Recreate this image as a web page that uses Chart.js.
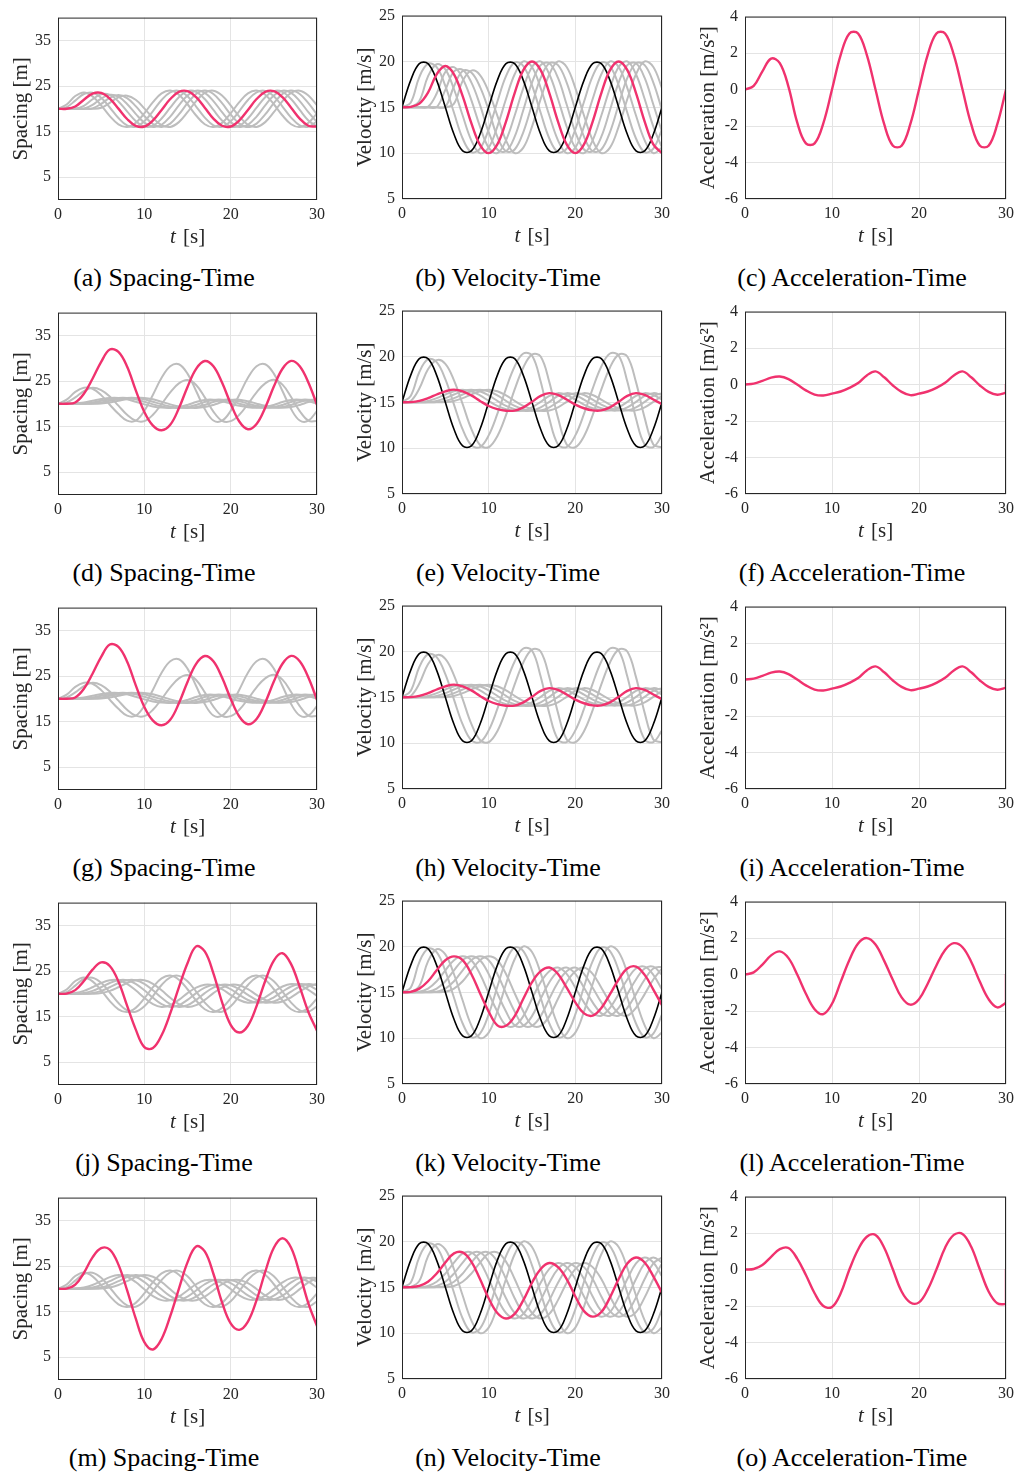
<!DOCTYPE html>
<html><head><meta charset="utf-8">
<script src="https://cdn.jsdelivr.net/npm/chart.js@4.4.1/dist/chart.umd.min.js"></script>
<style>
body{margin:0;background:#fff;width:1020px;height:1473px;position:relative;overflow:hidden}
canvas{position:absolute}
.cap{position:absolute;width:340px;text-align:center;font-family:'Liberation Serif','Times New Roman',serif;font-size:26px;line-height:30px;color:#000;white-space:nowrap}
</style></head><body>
<script>
// ---------------- data ----------------
const T = [0,1,2,3,4,5,6,7,8,9,10,11,12,13,14,15,16,17,18,19,20,21,22,23,24,25,26,27,28,29,30];
const T_TICKS = [0,10,20,30];
const SP_TICKS = [5,15,25,35];
const V_TICKS = [5,10,15,20,25];
const A_TICKS = [-6,-4,-2,0,2,4];

// leader velocity (black), same in every velocity panel
const LEADER_V = [15,17.94,19.76,19.76,17.94,15,12.06,10.24,10.24,12.06,15,17.94,19.76,19.76,17.94,15,12.06,10.24,10.24,12.06,15,17.94,19.76,19.76,17.94,15,12.06,10.24,10.24,12.06,15];

// two vehicles ahead of the highlighted one (rows a, j, m)
const FRONT_VEL_1 = [15,15.5,18.3,19.75,19.37,17.33,14.4,11.6,10.1,10.5,12.6,15.6,18.4,19.9,19.5,17.4,14.4,11.6,10.1,10.5,12.6,15.6,18.4,19.9,19.5,17.4,14.4,11.6,10.1,10.5,12.6];
const FRONT_VEL_2 = [15,15.05,15.7,18.38,19.7,19.14,16.97,14.1,11.4,10.0,10.6,12.9,15.9,18.6,20.0,19.4,17.1,14.1,11.4,10.0,10.6,12.9,15.9,18.6,20.0,19.4,17.1,14.1,11.4,10.0,10.6];
const FRONT_SP_1 = [20,20.95,22.8,23.59,22.73,20.75,18.4,16.59,16.0,16.92,19.0,21.47,23.38,23.99,23.08,21.0,18.53,16.62,16.0,16.92,19.0,21.47,23.38,23.99,23.08,21.0,18.53,16.62,16.0,16.92,19.0];
const FRONT_SP_2 = [20,20.36,21.8,23.24,23.53,22.4,20.28,17.97,16.36,16.07,17.26,19.5,21.93,23.62,23.93,22.74,20.5,18.07,16.38,16.07,17.26,19.5,21.93,23.62,23.93,22.74,20.5,18.07,16.38,16.07,17.26];

// Row 1 (a, b, c)
const R1_SP_PINK = [20,20,20.51,22.0,23.34,23.48,22.22,20.04,17.76,16.27,16.12,17.45,19.75,22.14,23.72,23.88,22.55,20.25,17.86,16.28,16.12,17.45,19.75,22.14,23.72,23.88,22.55,20.25,17.86,16.28,16.12];
const R1_SP_REAR = [
 [20,20,20,20.66,22.1,23.19,23.04,21.61,19.42,17.33,16.11,16.28,17.86,20.25,22.55,23.88,23.72,22.14,19.75,17.45,16.12,16.28,17.86,20.25,22.55,23.88,23.72,22.14,19.75,17.45,16.12],
 [20,20,20,20.03,20.86,22.24,23.07,22.66,21.06,18.89,16.96,16.03,16.5,18.3,20.75,22.92,23.97,23.5,21.7,19.25,17.08,16.03,16.5,18.3,20.75,22.92,23.97,23.5,21.7,19.25,17.08],
 [20,20,20,20,20.1,21.09,22.4,23.0,22.33,20.58,18.42,16.67,16.0,16.76,18.76,21.24,23.24,24,23.24,21.24,18.76,16.76,16,16.76,18.76,21.24,23.24,24,23.24,21.24,18.76],
 [20,20,20,20,20,20.22,21.32,22.52,22.87,21.97,20.1,17.98,16.43,16.03,17.08,19.25,21.7,23.5,23.97,22.92,20.75,18.3,16.5,16.03,17.08,19.25,21.7,23.5,23.97,22.92,20.75]
];
const R1_VEL_PINK = [15,15.05,15.4,16.6,18.6,19.5,18.59,16.22,13.28,10.91,10.0,10.95,13.45,16.55,19.05,20,19.05,16.55,13.45,10.95,10,10.95,13.45,16.55,19.05,20,19.05,16.55,13.45,10.95,10];
const R1_VEL_REAR = [
 [15,15,15,15.05,16.5,18.85,19.38,18.15,15.79,12.9,10.6,10.0,11.4,14.1,17.1,19.4,20.0,18.6,15.9,12.9,10.6,10.0,11.4,14.1,17.1,19.4,20.0,18.6,15.9,12.9,10.6],
 [15,15,15,15,15.02,16.9,18.91,19.08,17.72,15.26,12.3,10.4,10.2,11.8,14.7,17.7,19.6,19.8,18.2,15.3,12.3,10.4,10.2,11.8,14.7,17.7,19.6,19.8,18.2,15.3,12.3],
 [15,15,15,15,15,15.05,17.3,18.96,18.8,17.23,14.7,11.8,10.2,10.4,12.3,15.3,18.2,19.8,19.6,17.7,14.7,11.8,10.2,10.4,12.3,15.3,18.2,19.8,19.6,17.7,14.7],
 [15,15,15,15,15,15,15.4,17.88,19.0,18.52,16.68,14.1,11.4,10.0,10.6,12.9,15.9,18.6,20.0,19.4,17.1,14.1,11.4,10.0,10.6,12.9,15.9,18.6,20.0,19.4,17.1]
];
const R1_ACC_PINK = [0,0.2,1.0,1.7,1.45,0.15,-1.8,-2.95,-2.95,-1.85,0,1.9,3.08,3.08,1.9,0,-1.9,-3.08,-3.08,-1.9,0,1.9,3.08,3.08,1.9,0,-1.9,-3.08,-3.08,-1.9,0];

// Rows 2 and 3 (d-i, identical panels)
const R2_SP_FRONT = [
 [20,20.9,22.6,23.5,23.3,21.9,19.8,17.8,16.3,16.29,18.45,22.0,25.7,28.24,28.68,26.62,22.82,18.84,16.34,16.29,18.45,22.0,25.7,28.24,28.68,26.62,22.82,18.84,16.34,16.29,18.45],
 [20,20.3,21.4,22.8,23.5,23.0,21.6,19.6,17.6,16.3,16.19,17.59,19.94,22.51,24.47,25.2,24.12,21.4,18.3,16.28,16.19,17.59,19.94,22.51,24.47,25.25,24.2,21.5,18.4,16.3,16.2]
];
const R2_SP_PINK = [20,20.02,20.3,22.2,25.5,29.2,31.9,31.4,28.2,23.0,18.2,15.2,14.2,15.39,19.0,23.7,27.66,29.38,28.23,24.66,20.03,16.12,14.42,15.57,19.14,23.77,27.68,29.4,28.23,24.66,19.8];
const R2_SP_REAR = [
 [20,20.01,20.09,20.3,20.65,21.03,21.29,21.29,20.98,20.45,19.88,19.43,19.17,19.09,19.28,19.75,20.38,20.85,20.9,20.55,20.03,19.55,19.24,19.12,19.29,19.75,20.38,20.85,20.9,20.55,20.05],
 [20,20,20.01,20.09,20.3,20.65,21.03,21.29,21.29,20.98,20.45,19.88,19.43,19.17,19.09,19.28,19.75,20.38,20.85,20.9,20.55,20.03,19.55,19.24,19.12,19.29,19.75,20.38,20.85,20.9,20.55],
 [20,20,20,20.01,20.09,20.3,20.65,21.03,21.29,21.29,20.98,20.45,19.88,19.43,19.17,19.09,19.28,19.75,20.38,20.85,20.9,20.55,20.03,19.55,19.24,19.12,19.29,19.75,20.38,20.85,20.9],
 [20,20,20,20,20.01,20.09,20.3,20.65,21.03,21.29,21.29,20.98,20.45,19.88,19.43,19.17,19.09,19.28,19.75,20.38,20.85,20.9,20.55,20.03,19.55,19.24,19.12,19.29,19.75,20.38,20.85]
];
const R2_VEL_FRONT = [
 [15,15.7,18.3,19.7,19.38,17.52,14.75,12.04,10.31,10.12,11.39,13.73,16.49,18.91,20.32,20.1,17.26,13.24,10.4,10.12,11.39,13.73,16.49,18.91,20.32,20.1,17.26,13.24,10.4,10.12,11.39],
 [15,15.15,16.5,18.6,19.6,19.2,17.4,14.8,12.1,10.35,10.1,11.3,13.6,16.4,18.8,20.2,20.0,17.2,13.3,10.4,10.1,11.3,13.6,16.4,18.8,20.2,20.0,17.2,13.3,10.4,10.1]
];
const R2_VEL_PINK = [15.0,15.02,15.15,15.45,15.85,16.2,16.38,16.2,15.75,15.15,14.6,14.25,14.08,14.1,14.45,15.05,15.7,16.0,15.8,15.3,14.75,14.35,14.12,14.12,14.45,15.05,15.7,16.0,15.8,15.3,14.8];
const R2_VEL_REAR = [
 [15,15.0,15.02,15.15,15.45,15.85,16.2,16.38,16.2,15.75,15.15,14.6,14.25,14.08,14.1,14.45,15.05,15.7,16.0,15.8,15.3,14.75,14.35,14.12,14.12,14.45,15.05,15.7,16.0,15.8,15.3],
 [15,15,15.0,15.02,15.15,15.45,15.85,16.2,16.38,16.2,15.75,15.15,14.6,14.25,14.08,14.1,14.45,15.05,15.7,16.0,15.8,15.3,14.75,14.35,14.12,14.12,14.45,15.05,15.7,16.0,15.8],
 [15,15,15,15.0,15.02,15.15,15.45,15.85,16.2,16.38,16.2,15.75,15.15,14.6,14.25,14.08,14.1,14.45,15.05,15.7,16.0,15.8,15.3,14.75,14.35,14.12,14.12,14.45,15.05,15.7,16.0],
 [15,15,15,15,15.0,15.02,15.15,15.45,15.85,16.2,16.38,16.2,15.75,15.15,14.6,14.25,14.08,14.1,14.45,15.05,15.7,16.0,15.8,15.3,14.75,14.35,14.12,14.12,14.45,15.05,15.7]
];
const R2_ACC_PINK = [0,0.05,0.2,0.38,0.44,0.3,0.0,-0.32,-0.55,-0.6,-0.5,-0.38,-0.18,0.08,0.5,0.72,0.4,-0.05,-0.4,-0.58,-0.5,-0.38,-0.18,0.1,0.5,0.72,0.4,-0.05,-0.4,-0.56,-0.45];
const R2_ACC_END = [-0.45, 0];

// Row 4 (j, k, l)
const R4_SP_PINK = [20,20.05,20.8,22.8,25.3,26.9,26.1,22.7,17.4,12.2,8.3,8.1,10.9,15.7,21.4,26.7,30.4,29.3,24.5,18.2,13.2,11.5,13.0,17.3,22.8,27.3,28.9,26.5,21.5,16.0,11.9];
const R4_SP_REAR = [
 [20,20.02,20.18,20.64,21.44,22.36,22.97,22.97,22.2,20.76,19.12,17.72,17.1,17.5,18.68,20.16,21.36,22.0,21.88,21.0,19.76,18.64,18.06,18.3,19.24,20.48,21.6,22.16,21.88,20.88,19.56],
 [20,20,20.02,20.18,20.64,21.44,22.36,22.97,22.97,22.2,20.76,19.12,17.72,17.1,17.5,18.68,20.16,21.36,22.0,21.88,21.0,19.76,18.64,18.06,18.3,19.24,20.48,21.6,22.16,21.88,20.88],
 [20,20,20,20.02,20.18,20.64,21.44,22.36,22.97,22.97,22.2,20.76,19.12,17.72,17.1,17.5,18.68,20.16,21.36,22.0,21.88,21.0,19.76,18.64,18.06,18.3,19.24,20.48,21.6,22.16,21.88],
 [20,20,20,20,20.02,20.18,20.64,21.44,22.36,22.97,22.97,22.2,20.76,19.12,17.72,17.1,17.5,18.68,20.16,21.36,22.0,21.88,21.0,19.76,18.64,18.06,18.3,19.24,20.48,21.6,22.16]
];
const R4_VEL_PINK = [15.0,15.05,15.4,16.2,17.4,18.5,18.92,18.5,17.0,14.9,12.9,11.4,11.35,12.4,14.3,16.1,17.3,17.7,17.0,15.5,13.9,12.7,12.45,13.3,14.8,16.4,17.6,17.8,16.9,15.3,13.6];
const R4_VEL_REAR = [
 [15,15.0,15.05,15.4,16.2,17.4,18.5,18.92,18.5,17.0,14.9,12.9,11.4,11.35,12.4,14.3,16.1,17.3,17.7,17.0,15.5,13.9,12.7,12.45,13.3,14.8,16.4,17.6,17.8,16.9,15.3],
 [15,15,15.0,15.05,15.4,16.2,17.4,18.5,18.92,18.5,17.0,14.9,12.9,11.4,11.35,12.4,14.3,16.1,17.3,17.7,17.0,15.5,13.9,12.7,12.45,13.3,14.8,16.4,17.6,17.8,16.9],
 [15,15,15,15.0,15.05,15.4,16.2,17.4,18.5,18.92,18.5,17.0,14.9,12.9,11.4,11.35,12.4,14.3,16.1,17.3,17.7,17.0,15.5,13.9,12.7,12.45,13.3,14.8,16.4,17.6,17.8],
 [15,15,15,15,15.0,15.05,15.4,16.2,17.4,18.5,18.92,18.5,17.0,14.9,12.9,11.4,11.35,12.4,14.3,16.1,17.3,17.7,17.0,15.5,13.9,12.7,12.45,13.3,14.8,16.4,17.6]
];
const R4_ACC_PINK = [0,0.12,0.55,1.05,1.27,0.9,0.0,-1.05,-1.9,-2.17,-1.6,-0.4,0.8,1.7,2.0,1.65,0.75,-0.3,-1.25,-1.65,-1.35,-0.5,0.5,1.35,1.72,1.5,0.7,-0.4,-1.35,-1.8,-1.55];
const R4_ACC_END = [-1.55, 0];

// Row 5 (m, n, o)
const R5_SP_PINK = [20,20.05,20.9,23.5,26.9,28.9,28.6,25.3,19.7,13.5,8.3,6.7,9.0,14.0,20.0,25.8,29.3,28.2,23.3,17.0,12.4,11.0,12.8,17.5,23.7,29.0,31.1,29.0,23.3,16.8,11.8];
const R5_SP_REAR = [
 [20,20.01,20.07,20.3,20.84,21.68,22.56,23.0,22.64,21.48,19.88,18.4,17.52,17.48,18.28,19.64,21.0,21.86,21.94,21.24,19.96,18.56,17.68,17.64,18.48,19.92,21.4,22.34,22.38,21.56,20.24],
 [20,20,20.01,20.07,20.3,20.84,21.68,22.56,23.0,22.64,21.48,19.88,18.4,17.52,17.48,18.28,19.64,21.0,21.86,21.94,21.24,19.96,18.56,17.68,17.64,18.48,19.92,21.4,22.34,22.38,21.56],
 [20,20,20,20.01,20.07,20.3,20.84,21.68,22.56,23.0,22.64,21.48,19.88,18.4,17.52,17.48,18.28,19.64,21.0,21.86,21.94,21.24,19.96,18.56,17.68,17.64,18.48,19.92,21.4,22.34,22.38],
 [20,20,20,20,20.01,20.07,20.3,20.84,21.68,22.56,23.0,22.64,21.48,19.88,18.4,17.52,17.48,18.28,19.64,21.0,21.86,21.94,21.24,19.96,18.56,17.68,17.64,18.48,19.92,21.4,22.34]
];
const R5_VEL_PINK = [15.0,15.02,15.15,15.6,16.5,17.7,18.7,18.8,17.8,15.9,13.8,12.2,11.6,12.1,13.6,15.5,17.0,17.65,17.2,15.9,14.0,12.4,11.8,12.3,13.9,15.9,17.6,18.25,17.7,16.2,14.4];
const R5_VEL_REAR = [
 [15,15.0,15.02,15.15,15.6,16.5,17.7,18.7,18.8,17.8,15.9,13.8,12.2,11.6,12.1,13.6,15.5,17.0,17.65,17.2,15.9,14.0,12.4,11.8,12.3,13.9,15.9,17.6,18.25,17.7,16.2],
 [15,15,15.0,15.02,15.15,15.6,16.5,17.7,18.7,18.8,17.8,15.9,13.8,12.2,11.6,12.1,13.6,15.5,17.0,17.65,17.2,15.9,14.0,12.4,11.8,12.3,13.9,15.9,17.6,18.25,17.7],
 [15,15,15,15.0,15.02,15.15,15.6,16.5,17.7,18.7,18.8,17.8,15.9,13.8,12.2,11.6,12.1,13.6,15.5,17.0,17.65,17.2,15.9,14.0,12.4,11.8,12.3,13.9,15.9,17.6,18.25],
 [15,15,15,15,15.0,15.02,15.15,15.6,16.5,17.7,18.7,18.8,17.8,15.9,13.8,12.2,11.6,12.1,13.6,15.5,17.0,17.65,17.2,15.9,14.0,12.4,11.8,12.3,13.9,15.9,17.6]
];
const R5_ACC_PINK = [0,0.03,0.25,0.7,1.12,1.18,0.6,-0.3,-1.3,-2.0,-2.05,-1.3,0.0,1.1,1.8,1.9,1.2,0.0,-1.2,-1.8,-1.8,-1.1,0.0,1.2,1.9,1.95,1.25,0.0,-1.2,-1.85,-1.9];
const R5_ACC_END = [-1.9, 0];

const CAPTIONS = ['(a) Spacing-Time','(b) Velocity-Time','(c) Acceleration-Time',
 '(d) Spacing-Time','(e) Velocity-Time','(f) Acceleration-Time',
 '(g) Spacing-Time','(h) Velocity-Time','(i) Acceleration-Time',
 '(j) Spacing-Time','(k) Velocity-Time','(l) Acceleration-Time',
 '(m) Spacing-Time','(n) Velocity-Time','(o) Acceleration-Time'];
const Y_TITLES = ['Spacing [m]','Velocity [m/s]','Acceleration [m/s\u00B2]'];
const X_TITLE_VAR = 't', X_TITLE_UNIT = ' [s]';

// ---------------- layout / style ----------------
const COLS = [
  {plotLeft:58, plotW:260, plotTop:13, plotH:187},
  {plotLeft:402, plotW:261, plotTop:11, plotH:188},
  {plotLeft:745, plotW:262, plotTop:12, plotH:187}
];
const ROW_STEP = 295;
const FONT = "'Liberation Serif','Times New Roman',serif";
const PINK = '#f0326e', GRAY = '#bdbdbd', BLACK = '#000000', GRID = '#e4e4e4', INK = '#262626';

const ROWS = [
  {sp:{gray:[FRONT_SP_1,FRONT_SP_2,...R1_SP_REAR], pink:R1_SP_PINK},
   v:{gray:[FRONT_VEL_1,FRONT_VEL_2,...R1_VEL_REAR], pink:R1_VEL_PINK},
   a:{pink:R1_ACC_PINK, end:null}},
  {sp:{gray:[...R2_SP_FRONT,...R2_SP_REAR], pink:R2_SP_PINK},
   v:{gray:[...R2_VEL_FRONT,...R2_VEL_REAR], pink:R2_VEL_PINK},
   a:{pink:R2_ACC_PINK, end:R2_ACC_END}},
  {sp:{gray:[...R2_SP_FRONT,...R2_SP_REAR], pink:R2_SP_PINK},
   v:{gray:[...R2_VEL_FRONT,...R2_VEL_REAR], pink:R2_VEL_PINK},
   a:{pink:R2_ACC_PINK, end:R2_ACC_END}},
  {sp:{gray:[FRONT_SP_1,FRONT_SP_2,...R4_SP_REAR], pink:R4_SP_PINK},
   v:{gray:[FRONT_VEL_1,FRONT_VEL_2,...R4_VEL_REAR], pink:R4_VEL_PINK},
   a:{pink:R4_ACC_PINK, end:R4_ACC_END}},
  {sp:{gray:[FRONT_SP_1,FRONT_SP_2,...R5_SP_REAR], pink:R5_SP_PINK},
   v:{gray:[FRONT_VEL_1,FRONT_VEL_2,...R5_VEL_REAR], pink:R5_VEL_PINK},
   a:{pink:R5_ACC_PINK, end:R5_ACC_END}}
];

function pts(arr){ return T.map((t,i)=>({x:t, y:arr[i]})); }

const framePlugin = {
  id:'frame',
  afterDatasetsDraw(chart){
    const {ctx, chartArea:a} = chart;
    ctx.save(); ctx.strokeStyle = INK; ctx.lineWidth = 1;
    ctx.strokeRect(a.left+0.5, a.top+0.5, a.right-a.left-1, a.bottom-a.top-1);
    ctx.restore();
  }
};
const xTitlePlugin = {
  id:'xtitle',
  afterDraw(chart){
    const {ctx, chartArea:a} = chart;
    const cy = a.bottom + 37, cx = (a.left + a.right)/2;
    ctx.save(); ctx.fillStyle = INK; ctx.textBaseline = 'middle'; ctx.textAlign = 'left';
    ctx.font = 'italic 21px ' + FONT; const w1 = ctx.measureText(X_TITLE_VAR).width;
    ctx.font = '21px ' + FONT; const w2 = ctx.measureText(X_TITLE_UNIT).width + 2;
    const x0 = cx - (w1 + w2)/2;
    ctx.font = 'italic 21px ' + FONT; ctx.fillText(X_TITLE_VAR, x0, cy);
    ctx.font = '21px ' + FONT; ctx.fillText(X_TITLE_UNIT, x0 + w1 + 2, cy);
    ctx.restore();
  }
};

function makeChart(r, c, cfg, yMin, yMax, yTicks){
  const g = COLS[c];
  const W = 58 + g.plotW + 12, H = 12 + g.plotH + 50;
  const cv = document.createElement('canvas');
  cv.width = W; cv.height = H;
  cv.style.left = (g.plotLeft - 58) + 'px';
  cv.style.top = (r*ROW_STEP + g.plotTop - 12) + 'px';
  cv.style.width = W + 'px'; cv.style.height = H + 'px';
  document.body.appendChild(cv);
  const ds = [];
  if (cfg.pink) ds.push({data:pts(cfg.pink), borderColor:PINK, borderWidth:2.4, order:0});
  if (cfg.end) ds.push({data:[{x:30,y:cfg.end[0]},{x:30,y:cfg.end[1]}], borderColor:PINK, borderWidth:2.4, tension:0, order:0});
  if (cfg.black) ds.push({data:pts(cfg.black), borderColor:BLACK, borderWidth:1.6, order:1});
  (cfg.gray||[]).forEach(arr => ds.push({data:pts(arr), borderColor:GRAY, borderWidth:2, order:2}));
  new Chart(cv, {
    type:'line',
    data:{datasets:ds},
    options:{
      responsive:false, animation:false, devicePixelRatio:1, events:[],
      layout:{padding:{left:0, top:12, right:12, bottom:0}},
      plugins:{legend:{display:false}, tooltip:{enabled:false}},
      elements:{point:{radius:0}, line:{tension:0.38, borderCapStyle:'round', borderJoinStyle:'round', fill:false}},
      scales:{
        x:{type:'linear', min:0, max:30,
           afterBuildTicks:s=>{ s.ticks = T_TICKS.map(v=>({value:v})); },
           afterFit:s=>{ s.height = 50; },
           grid:{color:GRID, drawTicks:false}, border:{display:false},
           ticks:{padding:5, autoSkip:false, maxRotation:0, color:INK, font:{family:FONT, size:16}}},
        y:{type:'linear', min:yMin, max:yMax,
           afterBuildTicks:s=>{ s.ticks = yTicks.map(v=>({value:v})); },
           afterFit:s=>{ s.width = 58; },
           grid:{color:GRID, drawTicks:false}, border:{display:false},
           ticks:{padding:7, autoSkip:false, color:INK, font:{family:FONT, size:16}},
           title:{display:true, text:Y_TITLES[c], color:INK, font:{family:FONT, size:21}, padding:{top:8.4, bottom:0}}}
      }
    },
    plugins:[framePlugin, xTitlePlugin]
  });
}

ROWS.forEach((row, r) => {
  makeChart(r, 0, {gray:row.sp.gray, pink:row.sp.pink}, 0, 40, SP_TICKS);
  makeChart(r, 1, {gray:row.v.gray, pink:row.v.pink, black:LEADER_V}, 5, 25, V_TICKS);
  makeChart(r, 2, {pink:row.a.pink, end:row.a.end}, -6, 4, A_TICKS);
  for (let c = 0; c < 3; c++) {
    const d = document.createElement('div');
    d.className = 'cap';
    d.textContent = CAPTIONS[r*3 + c];
    d.style.left = (164 + 344*c - 170) + 'px';
    d.style.top = (263 + r*ROW_STEP) + 'px';
    document.body.appendChild(d);
  }
});
</script>
</body></html>
